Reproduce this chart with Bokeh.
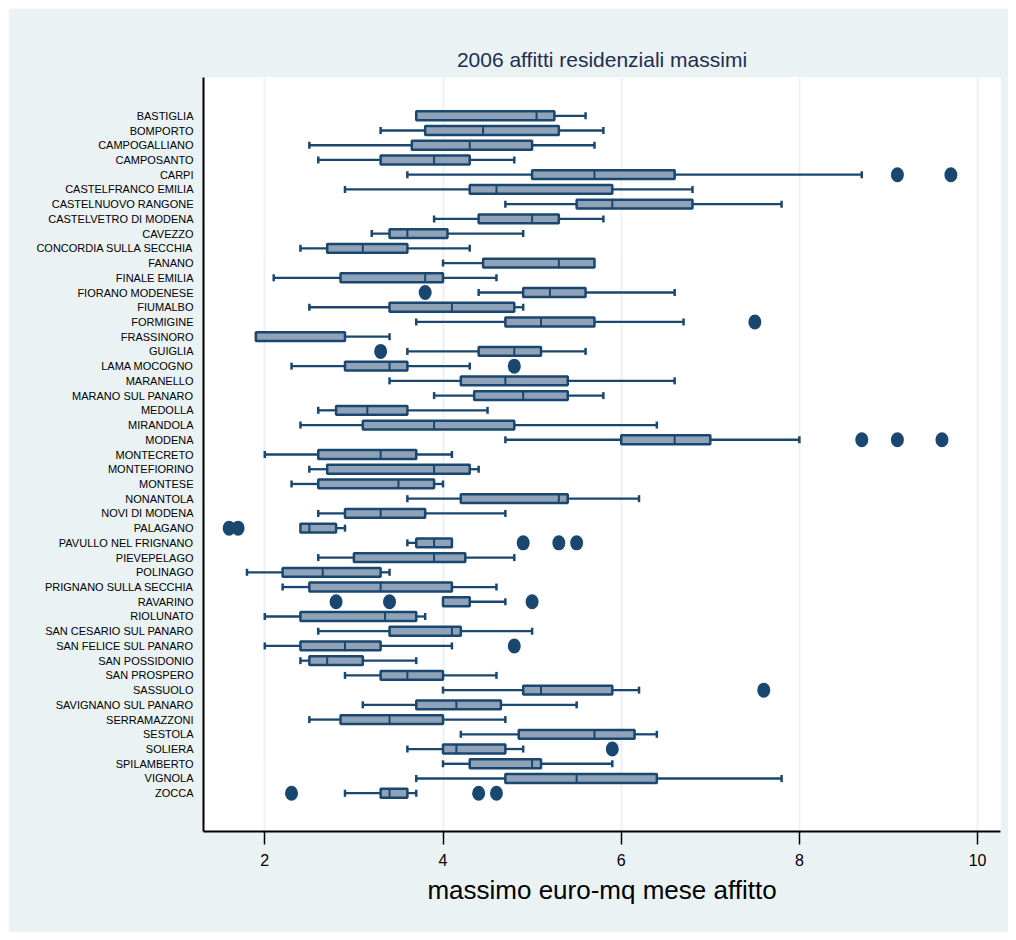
from bokeh.plotting import figure
from bokeh.models import Range1d, FixedTicker, ColumnDataSource
from bokeh.embed import file_html
from bokeh.resources import INLINE

names = ["BASTIGLIA", "BOMPORTO", "CAMPOGALLIANO", "CAMPOSANTO", "CARPI",
         "CASTELFRANCO EMILIA", "CASTELNUOVO RANGONE", "CASTELVETRO DI MODENA",
         "CAVEZZO", "CONCORDIA SULLA SECCHIA", "FANANO", "FINALE EMILIA",
         "FIORANO MODENESE", "FIUMALBO", "FORMIGINE", "FRASSINORO", "GUIGLIA",
         "LAMA MOCOGNO", "MARANELLO", "MARANO SUL PANARO", "MEDOLLA", "MIRANDOLA",
         "MODENA", "MONTECRETO", "MONTEFIORINO", "MONTESE", "NONANTOLA",
         "NOVI DI MODENA", "PALAGANO", "PAVULLO NEL FRIGNANO", "PIEVEPELAGO",
         "POLINAGO", "PRIGNANO SULLA SECCHIA", "RAVARINO", "RIOLUNATO",
         "SAN CESARIO SUL PANARO", "SAN FELICE SUL PANARO", "SAN POSSIDONIO",
         "SAN PROSPERO", "SASSUOLO", "SAVIGNANO SUL PANARO", "SERRAMAZZONI",
         "SESTOLA", "SOLIERA", "SPILAMBERTO", "VIGNOLA", "ZOCCA"]

lower_whisker = [3.7, 3.3, 2.5, 2.6, 3.6, 2.9, 4.7, 3.9, 3.2, 2.4, 4.0, 2.1, 4.4, 2.5, 3.7, 1.9, 3.6,
                 2.3, 3.4, 3.9, 2.6, 2.4, 4.7, 2.0, 2.5, 2.3, 3.6, 2.6, 2.4, 3.6, 2.6, 1.8, 2.2,
                 4.0, 2.0, 2.6, 2.0, 2.4, 2.9, 4.0, 3.1, 2.5, 4.2, 3.6, 4.0, 3.7, 2.9]
q1 = [3.7, 3.8, 3.65, 3.3, 5.0, 4.3, 5.5, 4.4, 3.4, 2.7, 4.45, 2.85, 4.9, 3.4, 4.7, 1.9, 4.4,
      2.9, 4.2, 4.35, 2.8, 3.1, 6.0, 2.6, 2.7, 2.6, 4.2, 2.9, 2.4, 3.7, 3.0, 2.2, 2.5,
      4.0, 2.4, 3.4, 2.4, 2.5, 3.3, 4.9, 3.7, 2.85, 4.85, 4.0, 4.3, 4.7, 3.3]
median = [5.05, 4.45, 4.3, 3.9, 5.7, 4.6, 5.9, 5.0, 3.6, 3.1, 5.3, 3.8, 5.2, 4.1, 5.1, 1.9, 4.8,
          3.4, 4.7, 4.9, 3.15, 3.9, 6.6, 3.3, 3.9, 3.5, 5.3, 3.3, 2.5, 3.9, 3.9, 2.65, 3.3,
          4.0, 3.35, 4.1, 2.9, 2.7, 3.6, 5.1, 4.15, 3.4, 5.7, 4.15, 5.0, 5.5, 3.4]
q3 = [5.25, 5.3, 5.0, 4.3, 6.6, 5.9, 6.8, 5.3, 4.05, 3.6, 5.7, 4.0, 5.6, 4.8, 5.7, 2.9, 5.1,
      3.6, 5.4, 5.4, 3.6, 4.8, 7.0, 3.7, 4.3, 3.9, 5.4, 3.8, 2.8, 4.1, 4.25, 3.3, 4.1,
      4.3, 3.7, 4.2, 3.3, 3.1, 4.0, 5.9, 4.65, 4.0, 6.15, 4.7, 5.1, 6.4, 3.6]
upper_whisker = [5.6, 5.8, 5.7, 4.8, 8.7, 6.8, 7.8, 5.8, 4.9, 4.3, 5.7, 4.6, 6.6, 4.9, 6.7, 3.4, 5.6,
                 4.3, 6.6, 5.8, 4.5, 6.4, 8.0, 4.1, 4.4, 4.0, 6.2, 4.7, 2.9, 4.1, 4.8, 3.4, 4.6,
                 4.7, 3.8, 5.0, 4.1, 3.7, 4.6, 6.2, 5.5, 4.7, 6.4, 4.9, 5.9, 7.8, 3.7]

outlier_city = ["CARPI", "CARPI", "FIORANO MODENESE", "FORMIGINE", "GUIGLIA", "LAMA MOCOGNO",
                "MODENA", "MODENA", "MODENA", "PALAGANO", "PALAGANO",
                "PAVULLO NEL FRIGNANO", "PAVULLO NEL FRIGNANO", "PAVULLO NEL FRIGNANO",
                "RAVARINO", "RAVARINO", "RAVARINO", "SAN FELICE SUL PANARO", "SASSUOLO",
                "SOLIERA", "ZOCCA", "ZOCCA", "ZOCCA"]
outlier_value = [9.1, 9.7, 3.8, 7.5, 3.3, 4.8,
                 8.7, 9.1, 9.6, 1.6, 1.7,
                 4.9, 5.3, 5.5,
                 2.8, 3.4, 5.0, 4.8, 7.6,
                 5.9, 2.3, 4.4, 4.6]

x_ticks = [2, 4, 6, 8, 10]

NAVY = "#1a476f"
BOXFILL = "#8fa2b7"
BG = "#eaf2f3"
FONT = "Liberation Sans"

n = len(names)
idx = list(range(n))
pos = {name: i for i, name in enumerate(names)}

p = figure(width=1000, height=924, output_backend="svg", toolbar_location=None,
           x_range=Range1d(1.312, 10.257), y_range=Range1d(n - 1 + 2.6, -2.6),
           min_border_left=195, min_border_right=8, min_border_top=69, min_border_bottom=101)
p.styles = {"margin": "8px"}

p.background_fill_color = "white"
p.border_fill_color = BG
p.outline_line_color = None

p.title.text = "2006 affitti residenziali massimi"
p.title.align = "center"
p.title.text_font = FONT
p.title.text_font_size = "21px"
p.title.text_font_style = "normal"
p.title.text_color = "#1f2d55"
p.title.standoff = 13

# whiskers
lw_src = ColumnDataSource(dict(y=[i for i in idx if lower_whisker[i] < q1[i]],
                               a=[lower_whisker[i] for i in idx if lower_whisker[i] < q1[i]],
                               b=[q1[i] for i in idx if lower_whisker[i] < q1[i]]))
uw_src = ColumnDataSource(dict(y=[i for i in idx if upper_whisker[i] > q3[i]],
                               a=[q3[i] for i in idx if upper_whisker[i] > q3[i]],
                               b=[upper_whisker[i] for i in idx if upper_whisker[i] > q3[i]]))
for src, capcol in ((lw_src, "a"), (uw_src, "b")):
    p.segment(x0="a", y0="y", x1="b", y1="y", source=src, line_color=NAVY, line_width=2.3)
    p.rect(x=capcol, y="y", width=2.5, height=7, width_units="screen", height_units="screen",
           source=src, fill_color=NAVY, line_color=None)

# boxes
p.hbar(y=idx, left=q1, right=q3, height=0.6, fill_color=BOXFILL,
       line_color=NAVY, line_width=2.5)
# medians
p.segment(x0=median, y0=[i - 0.3 for i in idx], x1=median, y1=[i + 0.3 for i in idx],
          line_color=NAVY, line_width=2)

# outliers
p.ellipse(x=outlier_value, y=[pos[c] for c in outlier_city], width=13, height=15,
          width_units="screen", height_units="screen", fill_color=NAVY, line_color=None)

# axes
p.xaxis.ticker = FixedTicker(ticks=x_ticks)
p.xaxis.minor_tick_line_color = None
p.xaxis.major_tick_in = 0
p.xaxis.major_tick_out = 13
p.xaxis.major_tick_line_color = "black"
p.xaxis.major_tick_line_width = 1.5
p.xaxis.axis_line_color = "black"
p.xaxis.axis_line_width = 2
p.xaxis.major_label_text_font = FONT
p.xaxis.major_label_text_font_size = "16px"
p.xaxis.major_label_text_color = "black"
p.xaxis.major_label_standoff = 9
p.xaxis.axis_label = "massimo euro-mq mese affitto"
p.xaxis.axis_label_text_font = FONT
p.xaxis.axis_label_text_font_size = "26px"
p.xaxis.axis_label_text_font_style = "normal"
p.xaxis.axis_label_text_color = "black"
p.xaxis.axis_label_standoff = 6

p.yaxis.ticker = FixedTicker(ticks=idx)
p.yaxis.major_label_overrides = {i: names[i] for i in idx}
p.yaxis.minor_tick_line_color = None
p.yaxis.major_tick_in = 0
p.yaxis.major_tick_out = 0
p.yaxis.axis_line_color = "black"
p.yaxis.axis_line_width = 2
p.yaxis.major_label_text_font = FONT
p.yaxis.major_label_text_font_size = "11px"
p.yaxis.major_label_text_color = "black"
p.yaxis.major_label_standoff = 10

p.xgrid.grid_line_color = BG
p.xgrid.grid_line_width = 2
p.ygrid.grid_line_color = None

open("out.html", "w").write(file_html(p, INLINE))
